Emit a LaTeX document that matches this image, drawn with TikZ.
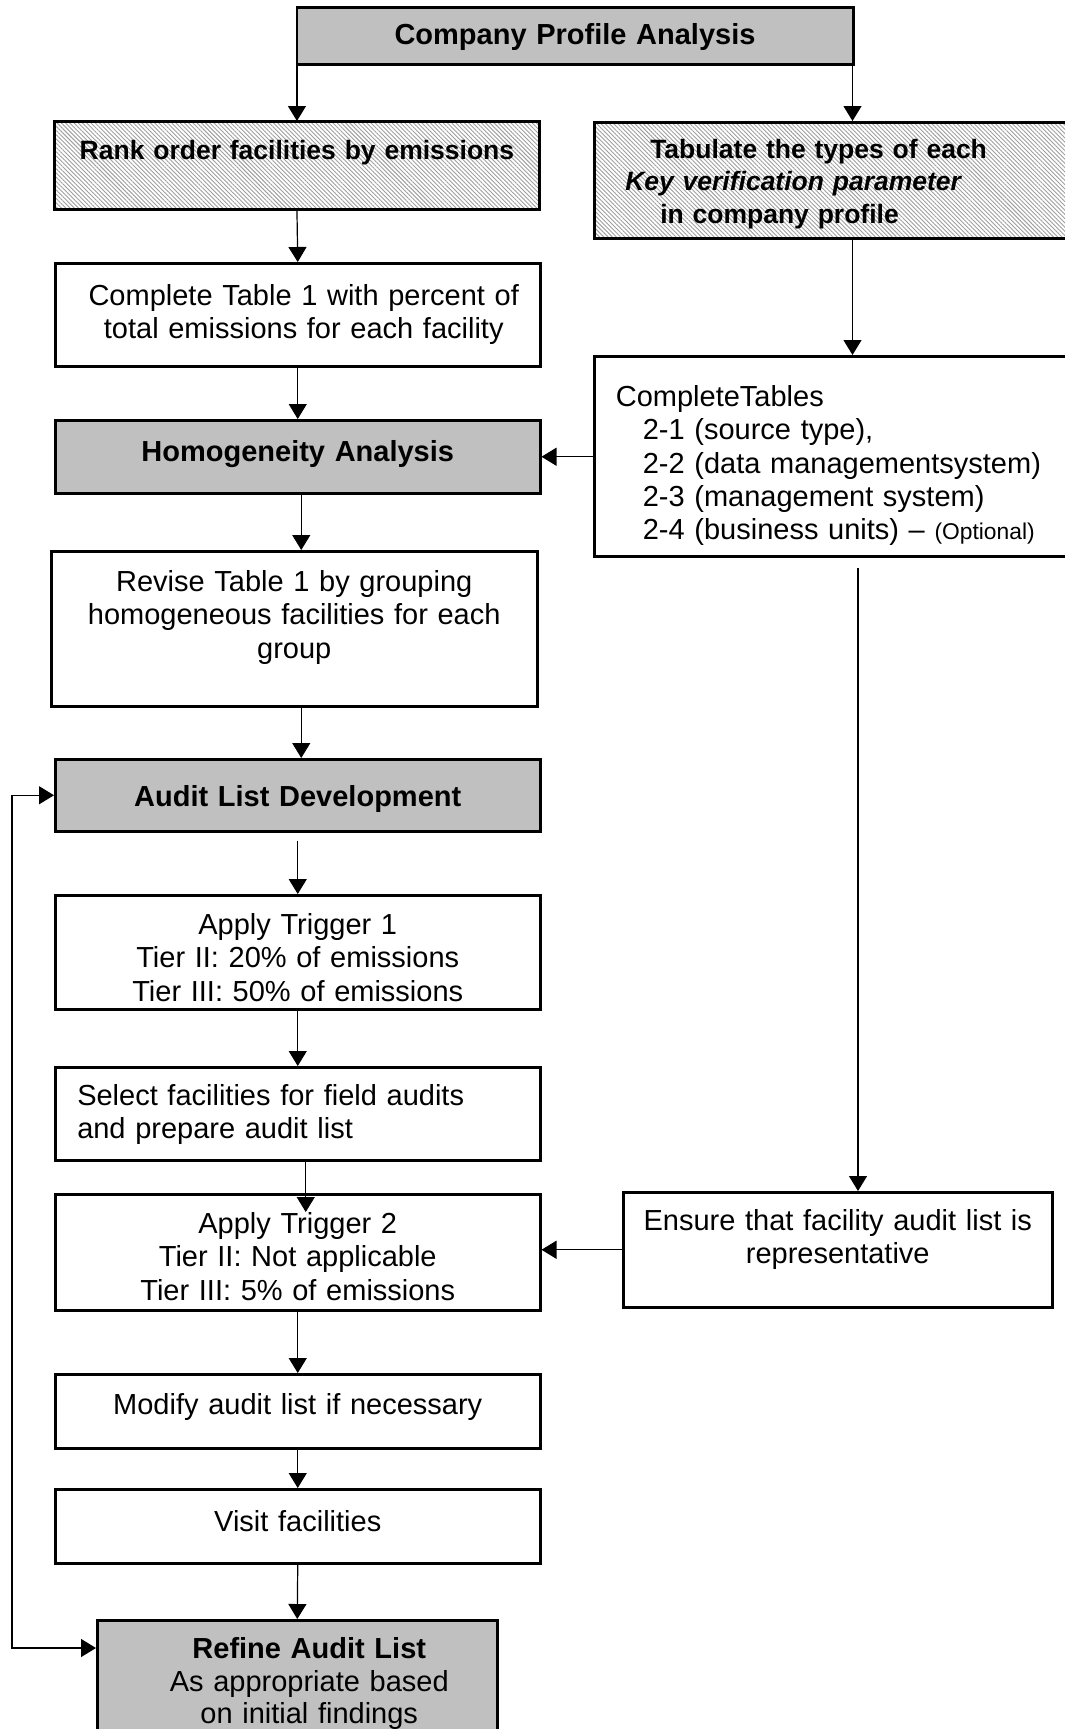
\documentclass[tikz,border=0pt]{standalone}
\usepackage{fontspec}
\setmainfont{Liberation Sans}
\usepackage{xcolor}
\usepackage{tikz}
\usetikzlibrary{arrows.meta}
\usetikzlibrary{patterns.meta}

\definecolor{boxgray}{HTML}{C0C0C0}

\begin{document}
\begin{tikzpicture}
  [
    x=0.5pt, y=-0.5pt,
    >={Triangle[length=7.5pt,width=9pt]},
    box/.style={
      draw=black,
      line width=1.25pt,
      anchor=north west,
      inner sep=0pt,
      align=center,
      font=\fontsize{14.5}{16.7}\selectfont
    },
    graybox/.style={
      box,
      fill=boxgray,
      font=\fontsize{14.5}{16.7}\selectfont\bfseries
    },
    hatchbox/.style={
      box,
      pattern={Lines[angle=-45,distance=1.5pt,line width=0.45pt]},
      pattern color=gray!75,
      font=\fontsize{13.25}{16.25}\selectfont\bfseries
    },
    ln/.style={draw=black,line width=0.6pt,->}
  ]
  \path [use as bounding box, fill=white] (0,0) rectangle (1065,1729);

  \node (company) at (295.5,6) [graybox, text width=278.25pt, text height=18.5pt, text depth=10pt]
    {Company Profile Analysis};

  \node (rank) at (54,121) [hatchbox, text width=242.5pt, text height=19pt, text depth=25pt]
    {Rank order facilities by emissions};
  \node (tab) at (593,121) [hatchbox, align=left, inner xsep=15.5pt, text width=208.5pt,
    text height=18pt, text depth=40pt]
    {\hspace*{12.5pt}Tabulate the types of each\\
     \textit{Key verification parameter}\\
     \hspace*{17.5pt}in company profile};

  \node (tab1) at (54,262) [box, text width=242.5pt, text height=21pt, text depth=30.5pt]
    {\hspace*{6pt}Complete Table 1 with percent of\\\hspace*{6pt}total emissions for each facility};
  \node (ctab) at (593,355) [box, align=left, inner xsep=10.8pt, text width=217.9pt,
    text height=25pt, text depth=75pt]
    {CompleteTables\\
     \hspace*{13.5pt}2-1 (source type),\\
     \hspace*{13.5pt}2-2 (data managementsystem)\\
     \hspace*{13.5pt}2-3 (management system)\\
     \hspace*{13.5pt}2-4 (business units) -- {\fontsize{11.4}{16.7}\selectfont(Optional)}};

  \node (homog) at (54,419) [graybox, text width=242.5pt, text height=20.5pt, text depth=16pt]
    {Homogeneity Analysis};
  \node (revise) at (50,550) [box, text width=243pt, text height=20pt, text depth=57.5pt]
    {Revise Table 1 by grouping\\homogeneous facilities for each\\group};
  \node (audit) at (54,758) [graybox, text width=242.5pt, text height=23.5pt, text depth=12.5pt]
    {Audit List Development};
  \node (trig1) at (54,894) [box, text width=242.5pt, text height=19.5pt, text depth=37.5pt]
    {Apply Trigger 1\\Tier II: 20\% of emissions\\Tier III: 50\% of emissions};
  \node (select) at (54,1066) [box, align=left, inner xsep=11pt, text width=220.5pt,
    text height=19pt, text depth=27.5pt]
    {Select facilities for field audits\\and prepare audit list};
  \node (trig2) at (54,1193) [box, text width=242.5pt, text height=19.5pt, text depth=38.5pt]
    {Apply Trigger 2\\Tier II: Not applicable\\Tier III: 5\% of emissions};
  \node (ensure) at (622,1191) [box, text width=214.5pt, text height=19pt, text depth=38.5pt]
    {Ensure that facility audit list is\\representative};
  \node (modify) at (54,1373) [box, text width=242.5pt, text height=20pt, text depth=17pt]
    {Modify audit list if necessary};
  \node (visit) at (54,1488) [box, text width=242.5pt, text height=21pt, text depth=16pt]
    {Visit facilities};
  \node (refine) at (96,1619) [graybox, text width=200pt, text height=19pt, text depth=63pt,
    font=\fontsize{14.5}{16.4}\selectfont]
    {\hspace*{12pt}\textbf{Refine Audit List}\\\hspace*{12pt}As appropriate based\\\hspace*{12pt}on initial findings};

  \coordinate (rt) at ([xshift=-1pt]company.south east);
  \coordinate (dn) at (858,568);
  \coordinate (fb) at (12,1648);

  \draw [ln] (rank.north |- company.south) -- (rank.north);
  \draw [ln] (rt) -- (rt |- tab.north);
  \draw [ln] (rank.south) -- (tab1.north);
  \draw [ln] (rt |- tab.south) -- (rt |- ctab.north);
  \draw [ln] (tab1.south) -- (homog.north);
  \draw [ln] (ctab.west |- homog.east) -- (homog.east);
  \draw [ln] ([xshift=1.75pt]homog.south) -- ([xshift=1.75pt]homog.south |- revise.north);
  \draw [ln] ([xshift=1.75pt]homog.south |- revise.south) -- ([xshift=1.75pt]homog.south |- audit.north);
  \draw [ln] ([yshift=-4pt]audit.south) -- (trig1.north);
  \draw [ln] (trig1.south) -- (select.north);
  \draw [ln] ([xshift=4pt]select.south) -- ([xshift=4pt,yshift=-9.5pt]trig2.north);
  \draw [ln] (dn) -- (dn |- ensure.north);
  \draw [ln] (ensure.west) -- (ensure.west -| trig2.east);
  \draw [ln] (trig2.south) -- (modify.north);
  \draw [ln] (modify.south) -- (visit.north);
  \draw [ln] (visit.south) -- (refine.north);
  \draw [ln, <->] (audit.west) -| (fb) -- (fb -| refine.west);
\end{tikzpicture}
\end{document}
